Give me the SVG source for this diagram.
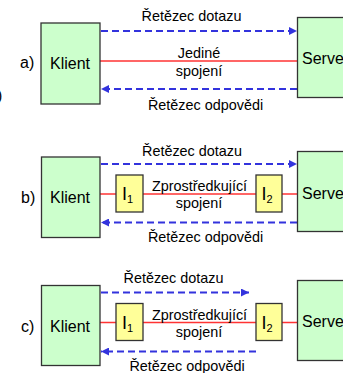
<svg xmlns="http://www.w3.org/2000/svg" width="343" height="373" viewBox="0 0 343 373">
<defs>
<style>
.box{fill:#ccffcc;stroke:#333;stroke-width:1.3}
.ibox{fill:#ffff99;stroke:#333;stroke-width:1.3}
.red{stroke:#ff3333;stroke-width:1.5;fill:none}
.blue{stroke:#3333dd;stroke-width:2;stroke-dasharray:7 4;fill:none}
.lbl{font-family:"Liberation Sans",Arial,sans-serif;font-size:14.4px;fill:#000;text-anchor:middle}
.big{font-family:"Liberation Sans",Arial,sans-serif;font-size:16px;fill:#000}
.ii{font-family:"Liberation Sans",Arial,sans-serif;font-size:18px;fill:#000}
.sub{font-size:11px}
</style>
<marker id="ah" viewBox="0 0 8 8" refX="8" refY="4" markerWidth="8" markerHeight="8" markerUnits="userSpaceOnUse" orient="auto">
<path d="M0,0 L8,4 L0,8 z" fill="#3333dd"/>
</marker>
</defs>

<g id="connectors">
<line class="blue" x1="101" y1="31" x2="297" y2="31" marker-end="url(#ah)"/>
<line class="red" x1="100" y1="61" x2="297" y2="61"/>
<line class="blue" x1="297" y1="89" x2="101" y2="89" marker-end="url(#ah)"/>
<line class="blue" x1="101" y1="164" x2="297" y2="164" marker-end="url(#ah)"/>
<line class="red" x1="100" y1="194" x2="297" y2="194"/>
<line class="blue" x1="297" y1="222.5" x2="101" y2="222.5" marker-end="url(#ah)"/>
<line class="blue" x1="101" y1="292.5" x2="249" y2="292.5" marker-end="url(#ah)"/>
<line class="red" x1="100" y1="322.5" x2="297" y2="322.5"/>
<line class="blue" x1="256" y1="351.5" x2="101" y2="351.5" marker-end="url(#ah)"/>
</g>

<g id="labels">
<text class="big" x="-3" y="101">)</text>
<text class="big" x="20" y="68">a)</text>
<text class="big" x="21" y="203">b)</text>
<text class="big" x="21" y="332">c)</text>
<text class="lbl" x="191.5" y="21">Řetězec dotazu</text>
<text class="lbl" x="199" y="58">Jediné</text>
<text class="lbl" x="199" y="75.5">spojení</text>
<text class="lbl" x="205.5" y="110">Řetězec odpovědi</text>
<text class="lbl" x="192" y="155.5">Řetězec dotazu</text>
<text class="lbl" x="199.5" y="190.5">Zprostředkující</text>
<text class="lbl" x="199" y="208">spojení</text>
<text class="lbl" x="205.5" y="242">Řetězec odpovědi</text>
<text class="lbl" x="173.5" y="282.5">Řetězec dotazu</text>
<text class="lbl" x="199.5" y="319.5">Zprostředkující</text>
<text class="lbl" x="199" y="336.5">spojení</text>
<text class="lbl" x="187" y="371">Řetězec odpovědi</text>
</g>

<g id="klient-a"><rect class="box" x="41" y="23" width="59" height="81"/><text class="big" x="50" y="68.5">Klient</text></g>
<g id="server-a"><rect class="box" x="297.5" y="17.5" width="60" height="80"/><text class="big" x="302" y="64">Server</text></g>

<g id="klient-b"><rect class="box" x="41.5" y="157" width="58.5" height="80.5"/><text class="big" x="50" y="203">Klient</text></g>
<g id="i1-b"><rect class="ibox" x="116" y="175" width="27" height="37"/><text class="ii" x="122" y="200">I<tspan class="sub" dy="3">1</tspan></text></g>
<g id="i2-b"><rect class="ibox" x="256" y="175" width="26" height="37"/><text class="ii" x="261.5" y="200">I<tspan class="sub" dy="3">2</tspan></text></g>
<g id="server-b"><rect class="box" x="297.5" y="151.5" width="60" height="80"/><text class="big" x="302" y="199">Server</text></g>

<g id="klient-c"><rect class="box" x="41.5" y="285.5" width="58.5" height="80"/><text class="big" x="50" y="332">Klient</text></g>
<g id="i1-c"><rect class="ibox" x="116" y="303.5" width="27" height="37"/><text class="ii" x="122" y="328.5">I<tspan class="sub" dy="3">1</tspan></text></g>
<g id="i2-c"><rect class="ibox" x="256" y="303.5" width="26" height="37"/><text class="ii" x="261.5" y="328.5">I<tspan class="sub" dy="3">2</tspan></text></g>
<g id="server-c"><rect class="box" x="297.5" y="280.5" width="60" height="80"/><text class="big" x="302" y="327">Server</text></g>
</svg>
